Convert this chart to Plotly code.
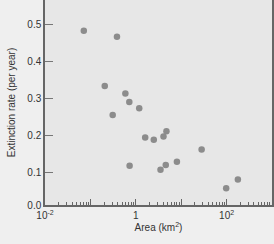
import plotly.graph_objects as go

# Data (area in km^2, extinction rate per year)
area = [0.0716, 0.385, 0.207, 0.589, 0.719, 0.310, 1.19, 0.731, 1.61, 2.49,
        4.07, 4.73, 28.2, 3.50, 4.57, 8.05, 97.9, 177]
extinction = [0.482, 0.466, 0.333, 0.313, 0.290, 0.255, 0.273, 0.118, 0.194, 0.188,
              0.197, 0.211, 0.162, 0.107, 0.120, 0.129, 0.057, 0.081]

x_tickvals = [0.01, 1, 100]
x_ticktext = ["10<sup>-2</sup>", "1", "10<sup>2</sup>"]
x_unlabeled_decades = [0.1, 10, 1000]
y_tickvals = [0.012, 0.1, 0.2, 0.3, 0.4, 0.5]
y_ticktext = ["0.0", "0.1", "0.2", "0.3", "0.4", "0.5"]

fig = go.Figure(go.Scatter(
    x=area, y=extinction, mode="markers",
    marker=dict(size=6.5, color="#8c8c8c", line=dict(width=0)),
))
# empty helper trace so the overlay axis (unlabelled decade ticks) is drawn
fig.add_trace(go.Scatter(x=[], y=[], xaxis="x2", yaxis="y", mode="markers",
                         hoverinfo="skip", showlegend=False))

font = dict(family="Liberation Sans, Arial, sans-serif", size=10, color="#333333")
xrange = [-2, 3.0]

fig.update_layout(
    width=274, height=244,
    margin=dict(l=45, r=2, t=0, b=39),
    paper_bgcolor="#efefef", plot_bgcolor="#e7e7e7",
    showlegend=False, font=font,
    xaxis=dict(
        type="log", range=xrange, tickmode="array",
        tickvals=x_tickvals, ticktext=x_ticktext,
        ticks="inside", ticklen=6, tickcolor="#666666", tickwidth=1,
        showline=True, linecolor="#666666", linewidth=1.5,
        showgrid=False, zeroline=False,
        minor=dict(dtick="D1", ticks="inside", ticklen=3.5, tickcolor="#666666",
                   tickwidth=1, showgrid=False),
        title=dict(text="Area (km<sup>2</sup>)", font=font, standoff=4),
        tickfont=font,
    ),
    xaxis2=dict(
        type="log", range=xrange, overlaying="x", side="bottom", anchor="y",
        tickmode="array", tickvals=x_unlabeled_decades, showticklabels=False,
        ticks="inside", ticklen=6, tickcolor="#666666", tickwidth=1,
        showline=False, showgrid=False, zeroline=False,
    ),
    yaxis=dict(
        range=[0.012, 0.565], tickmode="array",
        tickvals=y_tickvals, ticktext=y_ticktext,
        ticks="inside", ticklen=8, tickcolor="#777777", tickwidth=1,
        showline=True, linecolor="#666666", linewidth=1.5, mirror=True,
        showgrid=False, zeroline=False,
        title=dict(text="Extinction rate (per year)", font=font, standoff=10),
        tickfont=font,
    ),
)

fig.write_html("out.html")
